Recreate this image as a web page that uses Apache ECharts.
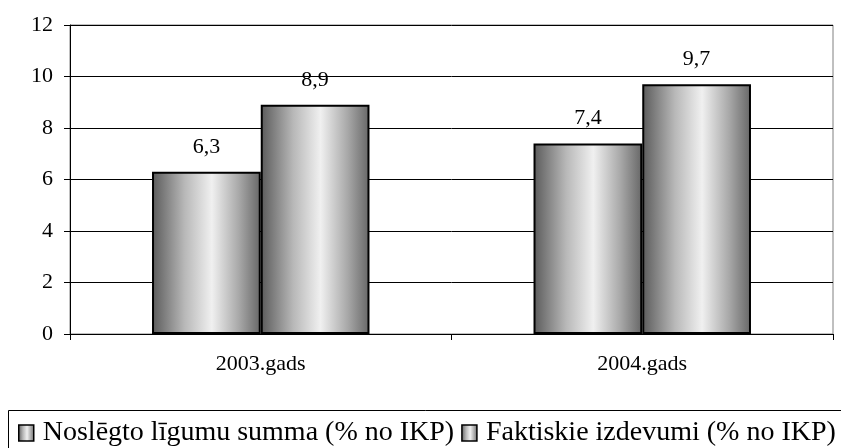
<!DOCTYPE html>
<html>
<head>
<meta charset="utf-8">
<script src="https://cdn.jsdelivr.net/npm/echarts@6/dist/echarts.min.js"></script>
<style>
  html, body { margin: 0; padding: 0; background: #fff; }
  #chart { width: 841px; height: 448px; }
</style>
</head>
<body>
<div id="chart"></div>
<script>
const categories = ['2003.gads', '2004.gads'];
const seriesNames = ['Noslēgto līgumu summa (% no IKP)', 'Faktiskie izdevumi (% no IKP)'];
const contracts = [6.3, 7.4];
const actual = [8.9, 9.7];

const fontFamily = '"Liberation Serif", "Times New Roman", serif';

const barGradient = new echarts.graphic.LinearGradient(0, 0, 1, 0, [
  { offset: 0, color: '#5a5a5a' },
  { offset: 0.3, color: '#b8b8b8' },
  { offset: 0.55, color: '#f0f0f0' },
  { offset: 0.8, color: '#a8a8a8' },
  { offset: 1, color: '#666666' }
]);

const makeSeries = (name, data) => ({
  name: name,
  type: 'bar',
  data: data,
  barGap: '0%',
  barCategoryGap: '43%',
  itemStyle: { color: barGradient, borderColor: '#000', borderWidth: 2 },
  label: {
    show: true,
    position: 'top',
    distance: 14,
    fontFamily: fontFamily,
    fontSize: 22,
    color: '#000',
    formatter: (p) => String(p.value).replace('.', ',')
  }
});

const chart = echarts.init(document.getElementById('chart'));
chart.setOption({
  animation: false,
  grid: {
    left: 70,
    right: 8,
    top: 25,
    bottom: 114,
    show: true,
    borderColor: '#808080',
    borderWidth: 1
  },
  xAxis: {
    type: 'category',
    data: categories,
    axisLine: { lineStyle: { color: '#000', width: 1 } },
    axisTick: { show: true, length: 6, lineStyle: { color: '#000' } },
    axisLabel: { fontFamily: fontFamily, fontSize: 22, color: '#000', margin: 19 }
  },
  yAxis: {
    type: 'value',
    min: 0,
    max: 12,
    interval: 2,
    axisLine: { show: true, lineStyle: { color: '#000', width: 1 } },
    axisTick: { show: true, length: 6, lineStyle: { color: '#000' } },
    axisLabel: { fontFamily: fontFamily, fontSize: 22, color: '#000', margin: 17 },
    splitLine: { lineStyle: { color: '#000', width: 1 } }
  },
  legend: {
    left: 18,
    top: 419,
    width: 823,
    padding: 0,
    itemWidth: 15,
    itemHeight: 16,
    itemGap: 7,
    icon: 'rect',
    textStyle: { fontFamily: fontFamily, fontSize: 28, color: '#000', padding: [0, 0, 0, 4] },
    itemStyle: { borderColor: '#000', borderWidth: 1.5 }
  },
  graphic: [
    {
      type: 'rect',
      shape: { x: 8.5, y: 410.5, width: 845, height: 60 },
      style: { fill: 'none', stroke: '#000', lineWidth: 1 },
      silent: true
    }
  ],
  series: [
    makeSeries(seriesNames[0], contracts),
    makeSeries(seriesNames[1], actual)
  ]
});
</script>
</body>
</html>
